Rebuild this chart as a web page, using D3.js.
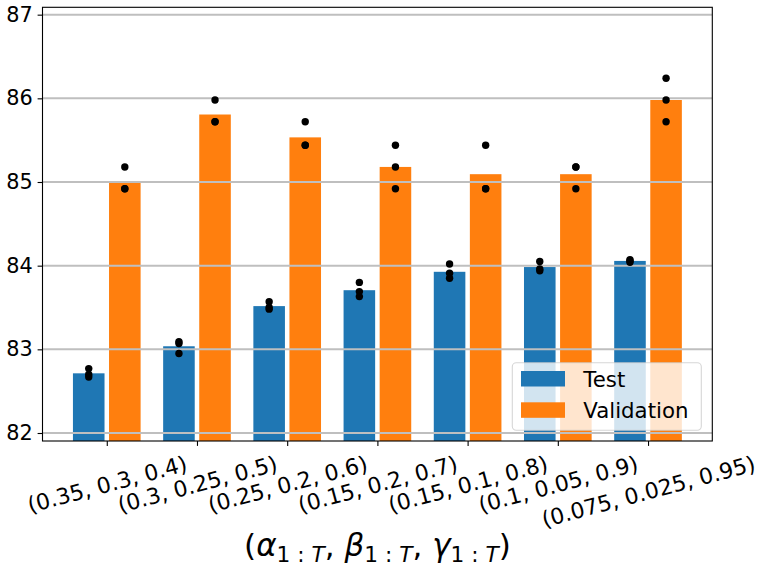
<!DOCTYPE html>
<html>
<head>
<meta charset="utf-8">
<script src="https://cdn.jsdelivr.net/npm/d3@7"></script>
<style>
  body { margin: 0; background: #fff; }
  text { font-family: "DejaVu Sans", sans-serif; fill: #000; }
</style>
</head>
<body>
<svg id="chart" width="763" height="571"></svg>
<script>
// settings (alpha, beta, gamma) per group
const labels = ["(0.35, 0.3, 0.4)", "(0.3, 0.25, 0.5)", "(0.25, 0.2, 0.6)", "(0.15, 0.2, 0.7)",
                "(0.15, 0.1, 0.8)", "(0.1, 0.05, 0.9)", "(0.075, 0.025, 0.95)"];

// three runs per setting
const testRuns = [
  [82.77, 82.70, 82.67],
  [83.09, 83.07, 82.95],
  [83.57, 83.50, 83.48],
  [83.80, 83.69, 83.63],
  [84.02, 83.91, 83.85],
  [84.05, 83.96, 83.94],
  [84.07, 84.06, 84.04]
];
const valRuns = [
  [85.18, 84.92, 84.92],
  [85.98, 85.72, 85.72],
  [85.72, 85.44, 85.44],
  [85.44, 85.18, 84.92],
  [85.44, 84.92, 84.92],
  [85.18, 85.18, 84.92],
  [86.24, 85.98, 85.72]
];
const yTicks = [82, 83, 84, 85, 86, 87];
const seriesNames = ["Test", "Validation"];
const colors = ["#1f77b4", "#ff7f0e"];

const svg = d3.select("#chart");
const axL = 42.5, axR = 712.3, axT = 7.3, axB = 441;
const fs = 20.8, fsX = 22, fsLeg = 21.3;

const x = d3.scaleLinear().domain([-0.7125, 6.7125]).range([axL, axR]);
const y = d3.scaleLinear().domain([81.9044, 87.088]).range([axB, axT]);
const barW = 0.35, off = 0.2;

svg.append("defs").append("clipPath").attr("id", "clip")
  .append("rect").attr("x", axL).attr("y", axT)
  .attr("width", axR - axL).attr("height", axB - axT);

const plot = svg.append("g").attr("clip-path", "url(#clip)");

const series = [testRuns, valRuns];
series.forEach((runs, s) => {
  const dx = s === 0 ? -off : off;
  plot.selectAll(".bar" + s)
    .data(runs)
    .enter().append("rect")
      .attr("fill", colors[s])
      .attr("x", (d, i) => x(i + dx - barW / 2))
      .attr("width", x(barW) - x(0))
      .attr("y", d => y(d3.mean(d)))
      .attr("height", d => axB - y(d3.mean(d)));
});

// grid over the bars
plot.selectAll(".grid")
  .data(yTicks)
  .enter().append("line")
    .attr("x1", axL).attr("x2", axR)
    .attr("y1", d => y(d)).attr("y2", d => y(d))
    .attr("stroke", "#bfbfbf").attr("stroke-width", 2);

series.forEach((runs, s) => {
  const dx = s === 0 ? -off : off;
  const pts = [];
  runs.forEach((r, i) => r.forEach(v => pts.push([i + dx, v])));
  plot.selectAll(".dot" + s)
    .data(pts)
    .enter().append("circle")
      .attr("cx", d => x(d[0]))
      .attr("cy", d => y(d[1]))
      .attr("r", 3.7)
      .attr("fill", "#000");
});

// axes
const yAxis = svg.append("g")
  .attr("transform", "translate(" + axL + ",0)")
  .call(d3.axisLeft(y).tickValues(yTicks).tickSize(4.9).tickPadding(4.9).tickFormat(d3.format("d")));
yAxis.select(".domain").remove();
yAxis.selectAll("text").style("font-size", fs + "px");

const xAxis = svg.append("g")
  .attr("transform", "translate(0," + axB + ")")
  .call(d3.axisBottom(x).tickValues(d3.range(labels.length)).tickSize(4.9).tickFormat(i => labels[i]));
xAxis.select(".domain").remove();
const rot = 15 * Math.PI / 180;
xAxis.selectAll("text")
  .style("font-size", fsX + "px")
  .attr("text-anchor", "middle")
  .attr("dy", "0.346em")
  .attr("y", 0)
  .each(function () {
    const w = this.getComputedTextLength();
    const h = fsX * 1.164;
    const cy = 9.7 + (w * Math.sin(rot) + h * Math.cos(rot)) / 2;
    d3.select(this).attr("transform", "translate(0," + cy + ") rotate(-15)");
  });
svg.selectAll(".tick line").attr("stroke", "#000").attr("stroke-width", 1.1);

svg.append("rect")
  .attr("x", axL).attr("y", axT)
  .attr("width", axR - axL).attr("height", axB - axT)
  .attr("fill", "none").attr("stroke", "#000").attr("stroke-width", 1.1);

// x label: (alpha_{1:T}, beta_{1:T}, gamma_{1:T})
const xl = svg.append("text")
  .attr("x", (axL + axR) / 2).attr("y", 556)
  .attr("text-anchor", "middle")
  .style("font-size", "31px");
xl.append("tspan").text("(");
["α", "β", "γ"].forEach((g, k) => {
  xl.append("tspan").style("font-style", "italic").text(g);
  xl.append("tspan").attr("dy", 6).style("font-size", "21.7px").text("1 : ");
  xl.append("tspan").style("font-size", "21.7px").style("font-style", "italic").text("T");
  xl.append("tspan").attr("dy", -6).text(k < 2 ? ", " : ")");
});

// legend
const lg = svg.append("g");
lg.append("rect")
  .attr("x", 512.3).attr("y", 362.7).attr("width", 189).attr("height", 67.6)
  .attr("rx", 4).attr("fill", "#fff").attr("fill-opacity", 0.8)
  .attr("stroke", "#cccccc").attr("stroke-opacity", 0.8).attr("stroke-width", 1.1);
seriesNames.forEach((n, i) => {
  const ry = 371 + i * 31.3;
  lg.append("rect").attr("x", 521).attr("y", ry).attr("width", 44).attr("height", 15.5)
    .attr("fill", colors[i]);
  lg.append("text").attr("x", 583.3).attr("y", ry + 15.5)
    .style("font-size", fsLeg + "px").text(n);
});
</script>
</body>
</html>
